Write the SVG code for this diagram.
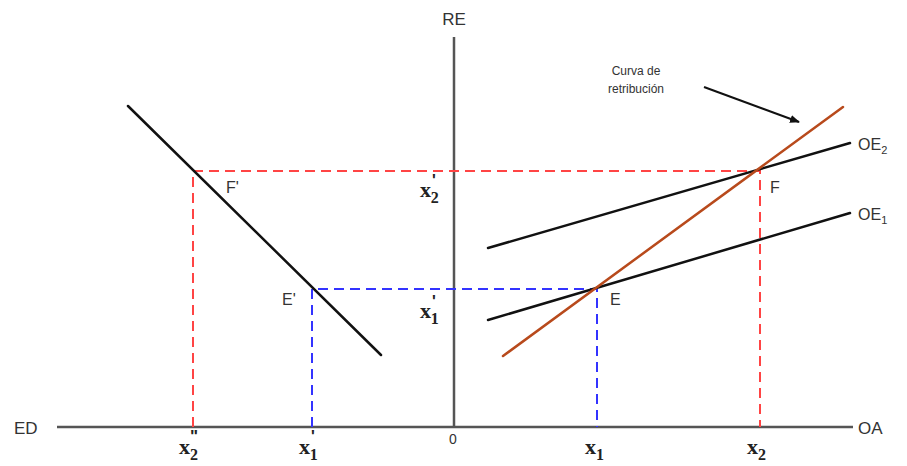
<svg xmlns="http://www.w3.org/2000/svg" width="907" height="466" viewBox="0 0 907 466">
<style>
.ax{stroke:#555;stroke-width:2.5;fill:none}
.ln{stroke:#111;stroke-width:2.5;fill:none;stroke-linecap:round}
.rd{stroke:#f44;stroke-width:2;stroke-dasharray:10 6;fill:none}
.bd{stroke:#33f;stroke-width:2;stroke-dasharray:10 6;fill:none}
.t{font-family:"Liberation Sans",Arial,sans-serif;fill:#333}
.x{font-family:"Liberation Serif","Times New Roman",serif;fill:#222;font-weight:bold}
.p{font-family:"Liberation Sans",Arial,sans-serif;font-weight:bold}
</style>
<defs>
<marker id="ah" markerWidth="10" markerHeight="8" refX="9" refY="4" orient="auto" markerUnits="userSpaceOnUse"><path d="M0,0 L10,4 L0,8 z" fill="#111"/></marker>
</defs>
<rect width="907" height="466" fill="#fff"/>
<g id="axes">
<line class="ax" x1="57" y1="427" x2="853" y2="427"/>
<line class="ax" x1="454" y1="37" x2="454" y2="427"/>
<text class="t" x="454" y="25" font-size="17" text-anchor="middle">RE</text>
<text class="t" x="14" y="434" font-size="17">ED</text>
<text class="t" x="858" y="434" font-size="17">OA</text>
<text class="t" x="453" y="444" font-size="14" text-anchor="middle">0</text>
</g>
<g id="connectors">
<polyline class="rd" points="193,427 193,171 760,171 760,427"/>
<polyline class="bd" points="312,427 312,289 597,289 597,427"/>
<line stroke="#111" stroke-width="2" x1="704" y1="87" x2="799" y2="122" marker-end="url(#ah)"/>
</g>
<g id="demand">
<line class="ln" x1="128" y1="106" x2="381" y2="355"/>
<text class="t" x="226" y="193" font-size="16">F'</text>
<text class="t" x="282" y="305" font-size="16">E'</text>
</g>
<g id="OE2">
<line class="ln" x1="488" y1="248" x2="850" y2="143"/>
<text class="t" x="858" y="150" font-size="16">OE<tspan font-size="11" dy="4">2</tspan></text>
</g>
<g id="OE1">
<line class="ln" x1="488" y1="320" x2="850" y2="213"/>
<text class="t" x="858" y="220" font-size="16">OE<tspan font-size="11" dy="4">1</tspan></text>
</g>
<g id="retribucion">
<line stroke="#b84a1c" stroke-width="2.5" stroke-linecap="round" x1="503" y1="356" x2="843" y2="107"/>
<text class="t" x="636" y="75" font-size="12" text-anchor="middle">Curva de</text>
<text class="t" x="636" y="93" font-size="12" text-anchor="middle">retribución</text>
</g>
<g id="points">
<text class="t" x="770" y="193" font-size="16">F</text>
<text class="t" x="610" y="305" font-size="16">E</text>
</g>
<g id="xlabels">
<text class="x" x="420" y="197" font-size="22">x<tspan class="p" font-size="16" dx="1" dy="-11">'</tspan><tspan font-size="16" dx="-5" dy="17">2</tspan></text>
<text class="x" x="420" y="318" font-size="22">x<tspan class="p" font-size="16" dx="1" dy="-11">'</tspan><tspan font-size="16" dx="-5" dy="17">1</tspan></text>
<text class="x" x="179" y="454" font-size="22">x<tspan class="p" font-size="17" dx="0" dy="-12">"</tspan><tspan font-size="16" dx="-8" dy="18">2</tspan></text>
<text class="x" x="299" y="454" font-size="22">x<tspan class="p" font-size="16" dx="1" dy="-12">'</tspan><tspan font-size="16" dx="-5" dy="18">1</tspan></text>
<text class="x" x="585" y="454" font-size="22">x<tspan font-size="16" dy="6">1</tspan></text>
<text class="x" x="747" y="454" font-size="22">x<tspan font-size="16" dy="6">2</tspan></text>
</g>
</svg>
